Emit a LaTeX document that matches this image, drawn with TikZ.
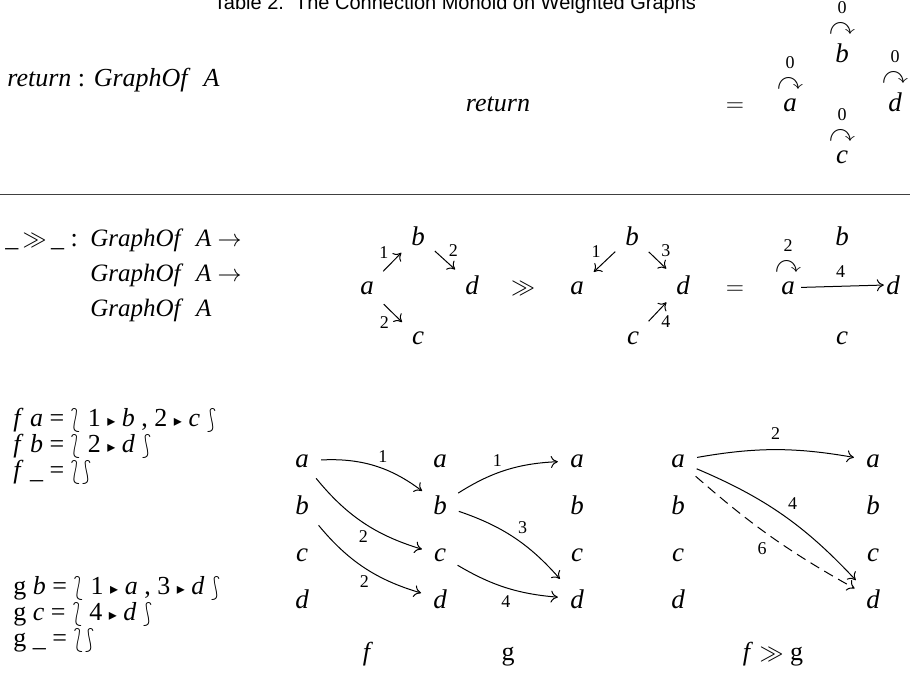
\documentclass[tikz,border=0pt]{standalone}
\usepackage{amssymb}
\usepackage{stmaryrd}
\usepackage{fontspec}
\setmainfont{Liberation Serif}
\setsansfont{Liberation Sans}
\newfontfamily\dejavu{DejaVu Sans}
\usetikzlibrary{arrows.meta, positioning}

\newcommand{\wtri}{{\dejavu\fontsize{8}{8}\selectfont ▸}}
\newcommand{\bagl}{\smash{$\lbag$}}
\newcommand{\bagr}{\smash{$\rbag$}}

\begin{document}
\begin{tikzpicture}[x=0.5pt, y=-0.5pt,
  every node/.style={inner sep=0pt, font=\fontsize{13}{13.5}\selectfont},
  vtx/.style={anchor=base, inner sep=3pt, font=\fontsize{13.5}{14}\selectfont\itshape},
  wt/.style={inner sep=1pt, font=\fontsize{9}{10}\selectfont},
  lp/.style={font=\fontsize{13}{13}\selectfont},
  line/.style={anchor=base west},
  edge/.style={-{Computer Modern Rightarrow[length=3.5pt,width=6pt]}, line width=0.5pt},
  short/.style={shorten <=2.5pt, shorten >=2.5pt},
  sshort/.style={shorten <=3pt, shorten >=3pt},
]
\useasboundingbox (0,0) rectangle (910,675);

\node[anchor=base, font=\sffamily\fontsize{10}{12}\selectfont] (title) at (455,9)
  {Table 2.\ \ The Connection Monoid on Weighted Graphs};

% return
\node[line] (retty) at (7,86) {\textit{return} : \textit{GraphOf}\ \ \textit{A}};
\node[anchor=base] (retlhs) at (498,111) {\textit{return}};
\node[anchor=base] (reteq) at (735,111) {$=$};
\node[vtx] (ra) at (790,111) {a};
\node[vtx] (rb) at (842,62) {b};
\node[vtx] (rc) at (842,163) {c};
\node[vtx] (rd) at (895,111) {d};
\foreach \v in {ra,rb,rc,rd}{
  \node[lp, above=1pt of \v] (\v-lp) {$\curvearrowright$};
  \node[wt, above=3.5pt of \v-lp] (\v-w) {0};
}

\coordinate (rulel) at (0,194);
\coordinate (ruler) at (910,194);
\draw[line width=0.4pt, black!75] (rulel) -- (ruler);

% bind
\node[line] (bindop) at (5,246) {\_\,$\gg$\,\_ :};
\node[line, font=\fontsize{12.5}{13}\selectfont] (bindty1) at (90,246) {\textit{GraphOf}\ \ \textit{A} $\rightarrow$};
\node[line, font=\fontsize{12.5}{13}\selectfont] (bindty2) at (90,281) {\textit{GraphOf}\ \ \textit{A} $\rightarrow$};
\node[line, font=\fontsize{12.5}{13}\selectfont] (bindty3) at (90,316) {\textit{GraphOf}\ \ \textit{A}};

\node[vtx] (pa) at (367,294) {a};
\node[vtx] (pb) at (418,245) {b};
\node[vtx] (pc) at (418,344) {c};
\node[vtx] (pd) at (472,294) {d};
\draw[edge, short] (pa) -- node[wt, above left=1pt] {1} (pb);
\draw[edge, short] (pb) -- node[wt, above right=1pt] {2} (pd);
\draw[edge, short] (pa) -- node[wt, below left=1pt] {2} (pc);

\node[anchor=base] (bindsym) at (523,294) {$\gg$};

\node[vtx] (qa) at (577,294) {a};
\node[vtx] (qb) at (632,245) {b};
\node[vtx] (qc) at (633,344) {c};
\node[vtx] (qd) at (683,294) {d};
\draw[edge, short] (qb) -- node[wt, above left=1pt] {1} (qa);
\draw[edge, short] (qb) -- node[wt, above right=1pt] {3} (qd);
\draw[edge, short] (qc) -- node[wt, below right=1pt] {4} (qd);

\node[anchor=base] (bindeq) at (735,294) {$=$};

\node[vtx] (sa) at (788,294) {a};
\node[vtx] (sb) at (842,245) {b};
\node[vtx] (sc) at (842,344) {c};
\node[vtx] (sd) at (893,294) {d};
\node[lp, above=1pt of sa] (sa-lp) {$\curvearrowright$};
\node[wt, above=3.5pt of sa-lp] (sa-w) {2};
\draw[edge, shorten >=-2pt] (sa) -- node[wt, above=3pt] {4} (sd);

% example
\node[line] (fdef1) at (13,426) {\textit{f}\ \textit{a} = \bagl\ 1 \wtri\ \textit{b} , 2 \wtri\ \textit{c} \bagr};
\node[line] (fdef2) at (13,452) {\textit{f}\ \textit{b} = \bagl\ 2 \wtri\ \textit{d} \bagr};
\node[line] (fdef3) at (13,478) {\textit{f}\ \_ = \bagl\bagr};
\node[line] (gdef1) at (13,594) {g\ \textit{b} = \bagl\ 1 \wtri\ \textit{a} , 3 \wtri\ \textit{d} \bagr};
\node[line] (gdef2) at (13,620) {g\ \textit{c} = \bagl\ 4 \wtri\ \textit{d} \bagr};
\node[line] (gdef3) at (13,646) {g\ \_ = \bagl\bagr};

\foreach \c/\x in {l/302, m/440, n/577, k/678, j/873}{
  \foreach \v/\y in {a/467, b/514, c/561, d/608}{
    \node[vtx] (\c\v) at (\x,\y) {\v};
  }
}

\draw[edge, sshort] (la) to[bend left=20] node[wt, above right=1pt] {1} (mb);
\draw[edge, sshort] (la) to[bend right=17] node[wt, below=3pt] {2} (mc);
\draw[edge, sshort] (lb) to[bend right=17] node[wt, below=3pt] {2} (md);
\draw[edge, sshort] (mb) to[bend left=15] node[wt, above left=1pt] {1} (na);
\draw[edge, sshort] (mb) to[bend left=15] node[wt, above right=1pt] {3} (nd);
\draw[edge, sshort] (mc) to[bend right=13] node[wt, below=3pt] {4} (nd);

\draw[edge, sshort] (ka) to[bend left=10] node[wt, above=4pt] {2} (ja);
\draw[edge, sshort] (ka) to[bend left=12] node[wt, above right=2pt] {4} (jd);
\draw[edge, sshort, dashed, dash pattern=on 5pt off 3pt] (ka) to[bend right=6] node[wt, below left=2pt] {6} (jd);

\node[anchor=base] (flbl) at (368,660) {\textit{f}};
\node[anchor=base] (glbl) at (508,660) {g};
\node[anchor=base] (fglbl) at (773,660) {\textit{f} $\gg$ g};

\end{tikzpicture}
\end{document}
